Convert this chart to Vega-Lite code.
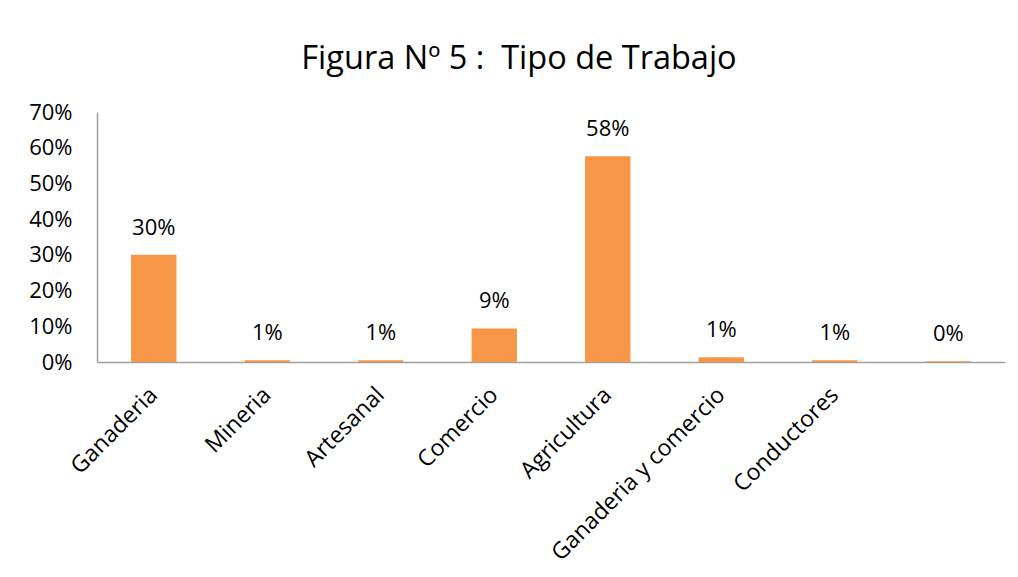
{
  "$schema": "https://vega.github.io/schema/vega-lite/v6.json",
  "autosize": "none",
  "width": 908,
  "height": 250,
  "padding": {"left": 97, "top": 112, "right": 13, "bottom": 215},
  "background": "white",
  "title": {
    "text": "Figura Nº 5 : \u00a0Tipo de Trabajo",
    "font": "Open Sans",
    "fontSize": 32.5,
    "fontWeight": "normal",
    "color": "#000000",
    "anchor": "middle",
    "dx": -32,
    "offset": 26
  },
  "data": {
    "values": [
      {"tipo": "Ganaderia", "pct": 0.30, "label": "30%"},
      {"tipo": "Mineria", "pct": 0.005, "label": "1%"},
      {"tipo": "Artesanal", "pct": 0.005, "label": "1%"},
      {"tipo": "Comercio", "pct": 0.094, "label": "9%"},
      {"tipo": "Agricultura", "pct": 0.576, "label": "58%"},
      {"tipo": "Ganaderia y comercio", "pct": 0.013, "label": "1%"},
      {"tipo": "Conductores", "pct": 0.005, "label": "1%"},
      {"tipo": " ", "pct": 0.002, "label": "0%"}
    ]
  },
  "encoding": {
    "x": {
      "field": "tipo",
      "type": "nominal",
      "sort": null,
      "scale": {"paddingInner": 0.6, "paddingOuter": 0.3},
      "axis": {
        "title": null,
        "labelAngle": -45,
        "labelAlign": "right",
        "labelBaseline": "middle",
        "labelFont": "Open Sans",
        "labelFontSize": 23,
        "labelColor": "#000000",
        "labelPadding": 29,
        "ticks": false,
        "domainColor": "#a0a0a0",
        "domainWidth": 1.5,
        "labelLimit": 400
      }
    },
    "y": {
      "field": "pct",
      "type": "quantitative",
      "scale": {"domain": [0, 0.7], "nice": false},
      "axis": {
        "title": null,
        "format": ".0%",
        "values": [0, 0.1, 0.2, 0.3, 0.4, 0.5, 0.6, 0.7],
        "grid": false,
        "ticks": false,
        "labelFont": "Open Sans",
        "labelFontSize": 22,
        "labelColor": "#000000",
        "labelPadding": 25,
        "domainColor": "#a0a0a0",
        "domainWidth": 1.5
      }
    }
  },
  "layer": [
    {"mark": {"type": "bar", "color": "#F79646"}},
    {
      "mark": {"type": "text", "dy": -15, "font": "Open Sans", "fontSize": 22, "color": "#000000", "baseline": "bottom"},
      "encoding": {"text": {"field": "label"}}
    }
  ],
  "config": {"view": {"stroke": null}}
}
